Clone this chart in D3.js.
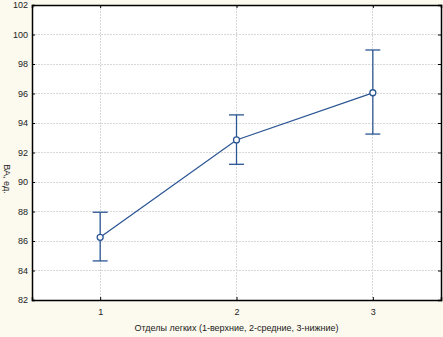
<!DOCTYPE html>
<html><head><meta charset="utf-8">
<script src="https://cdn.jsdelivr.net/npm/d3@7"></script>
<style>body{margin:0;background:#fcf9ee;} svg{display:block;}</style>
</head><body><svg id="c" width="443" height="337"></svg>
<script>
const categories = [1, 2, 3];
const means = [86.25, 92.85, 96.05];
const lower = [84.65, 91.2, 93.25];
const upper = [87.95, 94.55, 98.95];
const yTicks = [82, 84, 86, 88, 90, 92, 94, 96, 98, 100, 102];
const xLabel = "Отделы легких (1-верхние, 2-средние, 3-нижние)";
const yLabel = "ВА, ед.";

const svg = d3.select("#c");
const W = 443, H = 337;
const m = {l: 32, r: 2, t: 5, b: 37};
const x = d3.scaleLinear().domain([0.5, 3.5]).range([m.l, W - m.r]);
const y = d3.scaleLinear().domain([82, 102]).range([H - m.b, m.t]);
const font = "Arial, 'Liberation Sans', sans-serif";
const blue = "#2c5694";

svg.append("rect").attr("x", m.l).attr("y", m.t).attr("width", W - m.r - m.l).attr("height", H - m.b - m.t).attr("fill", "#fff");

// grid
svg.append("g").selectAll("line").data(yTicks.slice(1, -1)).join("line")
  .attr("x1", m.l).attr("x2", W - m.r).attr("y1", d => y(d)).attr("y2", d => y(d))
  .attr("stroke", "#d8d8d8").attr("stroke-width", 1).attr("stroke-dasharray", "2,1").attr("shape-rendering", "crispEdges");
svg.append("g").selectAll("line").data(categories).join("line")
  .attr("y1", m.t).attr("y2", H - m.b).attr("x1", d => x(d)).attr("x2", d => x(d))
  .attr("stroke", "#d8d8d8").attr("stroke-width", 1).attr("stroke-dasharray", "2,1").attr("shape-rendering", "crispEdges");

// axes
const yAxis = d3.axisLeft(y).tickValues(yTicks).tickSize(-3).tickPadding(4);
const gy = svg.append("g").attr("transform", `translate(${m.l},0)`).call(yAxis);
gy.selectAll("text").attr("font-family", font).attr("font-size", 9).attr("fill", "#222");
const gyr = svg.append("g").attr("transform", `translate(${W - m.r},0)`).call(d3.axisRight(y).tickValues(yTicks).tickSize(-3).tickFormat(""));
const xAxis = d3.axisBottom(x).tickValues(categories).tickFormat(d3.format("d")).tickSize(-3).tickPadding(9);
const gx = svg.append("g").attr("transform", `translate(0,${H - m.b})`).call(xAxis);
gx.selectAll("text").attr("font-family", font).attr("font-size", 9).attr("fill", "#222");
const gxt = svg.append("g").attr("transform", `translate(0,${m.t})`).call(d3.axisTop(x).tickValues(categories).tickSize(-3).tickFormat(""));
[gy, gyr, gx, gxt].forEach(g => { g.select(".domain").attr("stroke", "#000").attr("stroke-width", 1.5); g.selectAll(".tick line").attr("stroke", "#000"); });

// line
const pts = categories.map((c, i) => [c, means[i]]);
svg.append("path").datum(pts).attr("fill", "none").attr("stroke", blue).attr("stroke-width", 1.3)
  .attr("d", d3.line().x(d => x(d[0])).y(d => y(d[1])));

// error bars
const cap = 7.5;
const eb = svg.append("g").attr("stroke", blue).attr("stroke-width", 1.3);
categories.forEach((c, i) => {
  eb.append("line").attr("x1", x(c)).attr("x2", x(c)).attr("y1", y(lower[i])).attr("y2", y(upper[i]));
  eb.append("line").attr("x1", x(c) - cap).attr("x2", x(c) + cap).attr("y1", y(lower[i])).attr("y2", y(lower[i]));
  eb.append("line").attr("x1", x(c) - cap).attr("x2", x(c) + cap).attr("y1", y(upper[i])).attr("y2", y(upper[i]));
});
svg.append("g").selectAll("circle").data(pts).join("circle")
  .attr("cx", d => x(d[0])).attr("cy", d => y(d[1])).attr("r", 3)
  .attr("fill", "#fff").attr("stroke", blue).attr("stroke-width", 1.3);

// labels
svg.append("text").attr("x", (m.l + W - m.r) / 2).attr("y", 331).attr("text-anchor", "middle")
  .attr("font-family", font).attr("font-size", 9).attr("fill", "#222").text(xLabel);
svg.append("text").attr("transform", "translate(4,179) rotate(90)").attr("text-anchor", "middle")
  .attr("font-family", font).attr("font-size", 9).attr("fill", "#222").text(yLabel);
</script></body></html>
